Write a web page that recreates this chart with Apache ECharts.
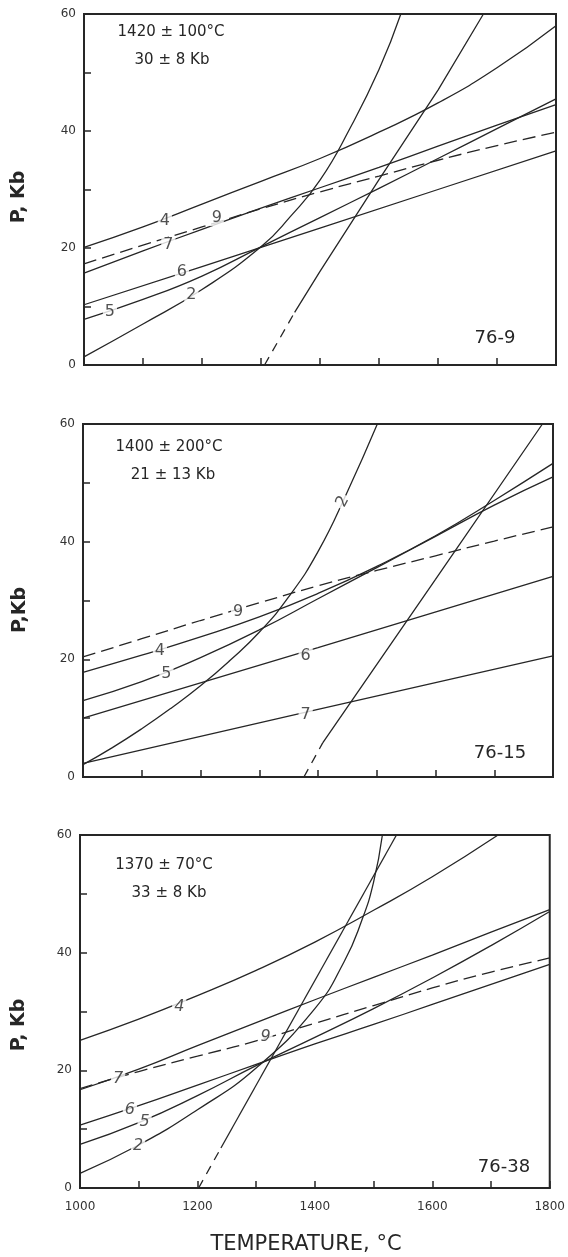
<!DOCTYPE html>
<html><head><meta charset="utf-8">
<script src="https://cdn.jsdelivr.net/npm/echarts@6/dist/echarts.min.js"></script>
<style>html,body{margin:0;padding:0;background:#fff}#c{width:568px;height:1257px}</style>
</head><body><div id="c"></div>
<script>
// ---- data: [temperature °C, pressure Kb] ----
// Panel 1 (76-9)
const p1_4 = [[1000,20.1],[1100,23.6],[1200,27.5],[1300,31.4],[1400,35.3],[1500,39.8],[1600,44.8],[1700,50.8],[1800,58]];
const p1_9 = [[1000,17.3],[1100,20.5],[1200,23.6],[1300,26.7],[1400,29.6],[1500,32.3],[1600,35.0],[1700,37.5],[1800,39.8]];
const p1_7 = [[1000,15.7],[1100,19.5],[1200,23.2],[1300,26.8],[1400,30.3],[1500,33.8],[1600,37.4],[1700,41.0],[1800,44.5]];
const p1_6 = [[1000,10.3],[1200,16.8],[1400,23.4],[1600,30.0],[1800,36.6]];
const p1_5 = [[1000,7.8],[1100,11.2],[1200,15.2],[1300,20.2],[1400,25.2],[1500,30.2],[1600,35.3],[1700,40.4],[1800,45.5]];
const p1_2 = [[1000,1.4],[1100,7.0],[1200,12.9],[1300,20.2],[1350,25.4],[1400,31.6],[1450,40.3],[1500,50.5],[1537,60]];
const p1_steepDash = [[1306,0],[1357,9]];
const p1_steep = [[1357,9],[1400,16],[1500,31.7],[1600,47],[1677,60]];
const p1_labels = [['4',1137,24.7],['9',1225,25.1],['7',1143,20.5],['6',1166,15.9],['5',1044,9.1],['2',1182,12.0]];
// Panel 2 (76-15)
const p2_9 = [[1000,20.4],[1100,23.5],[1200,26.6],[1300,29.6],[1400,32.5],[1500,35.1],[1600,37.6],[1700,40.1],[1800,42.5]];
const p2_4 = [[1000,17.8],[1100,20.7],[1200,23.8],[1300,27.2],[1400,31.2],[1500,35.8],[1600,41.0],[1700,47.0],[1800,53.3]];
const p2_5 = [[1000,13.0],[1100,16.2],[1200,20.3],[1300,25.0],[1400,30.3],[1500,35.6],[1600,40.9],[1700,46.2],[1800,51.0]];
const p2_6 = [[1000,10.0],[1400,22.0],[1800,34.1]];
const p2_7 = [[1000,2.3],[1400,11.5],[1800,20.6]];
const p2_2 = [[1000,2.1],[1050,5.0],[1100,8.2],[1150,11.7],[1200,15.5],[1250,19.8],[1300,24.6],[1350,30.6],[1400,38.3],[1450,48.5],[1501,60]];
const p2_steepDash = [[1376,0],[1408,5.8]];
const p2_steep = [[1408,5.8],[1600,33.6],[1782,60]];
const p2_labels = [['9',1264,28.1,0],['4',1131,21.5,0],['5',1142,17.6,0],['6',1379,20.6,0],['7',1379,10.6,0],['2',1442,46.8,62]];
// Panel 3 (76-38)
const p3_4 = [[1000,25.1],[1100,28.7],[1200,32.7],[1300,37.0],[1400,41.8],[1500,47.2],[1600,52.9],[1712,60]];
const p3_7 = [[1000,16.7],[1100,20.2],[1200,24.2],[1300,28.1],[1400,32.0],[1500,35.8],[1600,39.6],[1700,43.5],[1800,47.3]];
const p3_9 = [[1000,16.9],[1100,19.8],[1200,22.4],[1300,25.0],[1400,28.0],[1500,31.0],[1600,34.0],[1700,36.7],[1800,39.1]];
const p3_6 = [[1000,10.7],[1100,14.0],[1200,17.5],[1300,21.0],[1400,24.5],[1500,27.8],[1600,31.2],[1700,34.6],[1800,38.0]];
const p3_5 = [[1000,7.4],[1100,11.1],[1200,15.7],[1300,20.8],[1400,25.6],[1500,30.5],[1600,35.7],[1700,41.2],[1800,47.0]];
const p3_2 = [[1000,2.5],[1100,7.3],[1200,13.3],[1300,20.4],[1400,30.5],[1450,38.5],[1480,45.5],[1500,52.0],[1515,60]];
const p3_steepDash = [[1202,0],[1240,6.8]];
const p3_steep = [[1240,6.8],[1539,60]];
const p3_labels = [['4',1169,30.8],['7',1065,18.6],['9',1316,25.7],['6',1085,13.3],['5',1110,11.3],['2',1099,7.1]];

const tempTicks = [1000,1200,1400,1600,1800];
const presTicks = [0,20,40,60];
const panelTexts = [
  {t1:'1420 ± 100°C', t2:'30 ± 8 Kb', id:'76-9'},
  {t1:'1400 ± 200°C', t2:'21 ± 13 Kb', id:'76-15'},
  {t1:'1370 ± 70°C', t2:'33 ± 8 Kb', id:'76-38'}
];

// ---- layout ----
const INK = '#262626';
const FONT = '"DejaVu Sans", sans-serif';
const grids = [
  {left:84, right:12, top:14, height:351},
  {left:83, right:15, top:424, height:353},
  {left:80, right:15, top:835, height:353}
];
const xAxes = grids.map((g,i)=>({
  gridIndex:i, type:'value', min:1000, max:1800, interval:100,
  axisLine:{show:true, lineStyle:{color:INK, width:2}},
  axisTick:{show:true, inside:true, length:7, lineStyle:{color:INK, width:1.5}},
  axisLabel:{show:i===2, margin:13, color:'#333', fontFamily:FONT, fontSize:12,
    showMinLabel:true, showMaxLabel:true,
    formatter:v=>tempTicks.includes(v)?String(v):''},
  splitLine:{show:false}
}));
const yAxes = grids.map((g,i)=>({
  gridIndex:i, type:'value', min:0, max:60, interval:10,
  axisLine:{show:true, lineStyle:{color:INK, width:2}},
  axisTick:{show:true, inside:true, length:7, lineStyle:{color:INK, width:1.5}},
  axisLabel:{show:true, margin:8, color:'#333', fontFamily:FONT, fontSize:12,
    formatter:v=>presTicks.includes(v)?String(v):''},
  splitLine:{show:false}
}));

function line(data, idx, opts={}){
  return {type:'line', xAxisIndex:idx, yAxisIndex:idx, data, showSymbol:false, symbol:'none',
    smooth: opts.smooth===undefined?0.5:opts.smooth, clip:true, silent:true,
    lineStyle:{color:INK, width:1.3, type: opts.dash || 'solid'}, z:2};
}
function labels(arr, idx, italic){
  return {type:'scatter', xAxisIndex:idx, yAxisIndex:idx, symbolSize:1, silent:true, z:10,
    itemStyle:{color:'rgba(0,0,0,0)'},
    data: arr.map(a=>({value:[a[1],a[2]], name:a[0], label:{rotate:a[3]||0}})),
    label:{show:true, position:'inside', formatter:p=>p.name, color:INK,
      fontFamily:FONT, fontSize:16, fontStyle: italic?'italic':'normal',
      backgroundColor:'#fff', padding:[0,2]}};
}
const DASH9 = [13,6];
const DASHB = [9,7];
const series = [
  line(p1_4,0), line(p1_9,0,{dash:DASH9}), line(p1_7,0), line(p1_6,0,{smooth:false}), line(p1_5,0), line(p1_2,0),
  line(p1_steepDash,0,{dash:DASHB, smooth:false}), line(p1_steep,0,{smooth:false}), labels(p1_labels,0,false),
  line(p2_9,1,{dash:DASH9}), line(p2_4,1), line(p2_5,1), line(p2_6,1,{smooth:false}), line(p2_7,1,{smooth:false}), line(p2_2,1),
  line(p2_steepDash,1,{dash:DASHB, smooth:false}), line(p2_steep,1,{smooth:false}), labels(p2_labels,1,false),
  line(p3_4,2), line(p3_7,2), line(p3_9,2,{dash:DASH9}), line(p3_6,2), line(p3_5,2), line(p3_2,2),
  line(p3_steepDash,2,{dash:DASHB, smooth:false}), line(p3_steep,2,{smooth:false}), labels(p3_labels,2,true)
];

function txt(x,y,text,size,opts={}){
  return {type:'text', x, y, rotation:opts.rot||0, z:20,
    style:{text, fill:INK, font:(opts.weight||'normal')+' '+size+'px '+FONT,
      textAlign:opts.align||'center', textVerticalAlign:'middle'}};
}
const graphics = [
  txt(171,32,panelTexts[0].t1,15), txt(172,60,panelTexts[0].t2,15), txt(495,338,panelTexts[0].id,18),
  txt(169,447,panelTexts[1].t1,15), txt(173,475,panelTexts[1].t2,15), txt(500,753,panelTexts[1].id,18),
  txt(164,865,panelTexts[2].t1,15), txt(169,893,panelTexts[2].t2,15), txt(504,1167,panelTexts[2].id,18),
  txt(19,197,'P, Kb',19,{rot:Math.PI/2, weight:'bold'}),
  txt(20,610,'P,Kb',19,{rot:Math.PI/2, weight:'bold'}),
  txt(19,1025,'P, Kb',19,{rot:Math.PI/2, weight:'bold'}),
  txt(306,1245,'TEMPERATURE, °C',21)
];

const chart = echarts.init(document.getElementById('c'), null, {renderer:'canvas'});
chart.setOption({
  animation:false, backgroundColor:'#fff',
  grid: grids.map(g=>Object.assign({show:true, borderColor:INK, borderWidth:2, backgroundColor:'transparent'}, g)),
  xAxis:xAxes, yAxis:yAxes, series, graphic:graphics
});
</script></body></html>
